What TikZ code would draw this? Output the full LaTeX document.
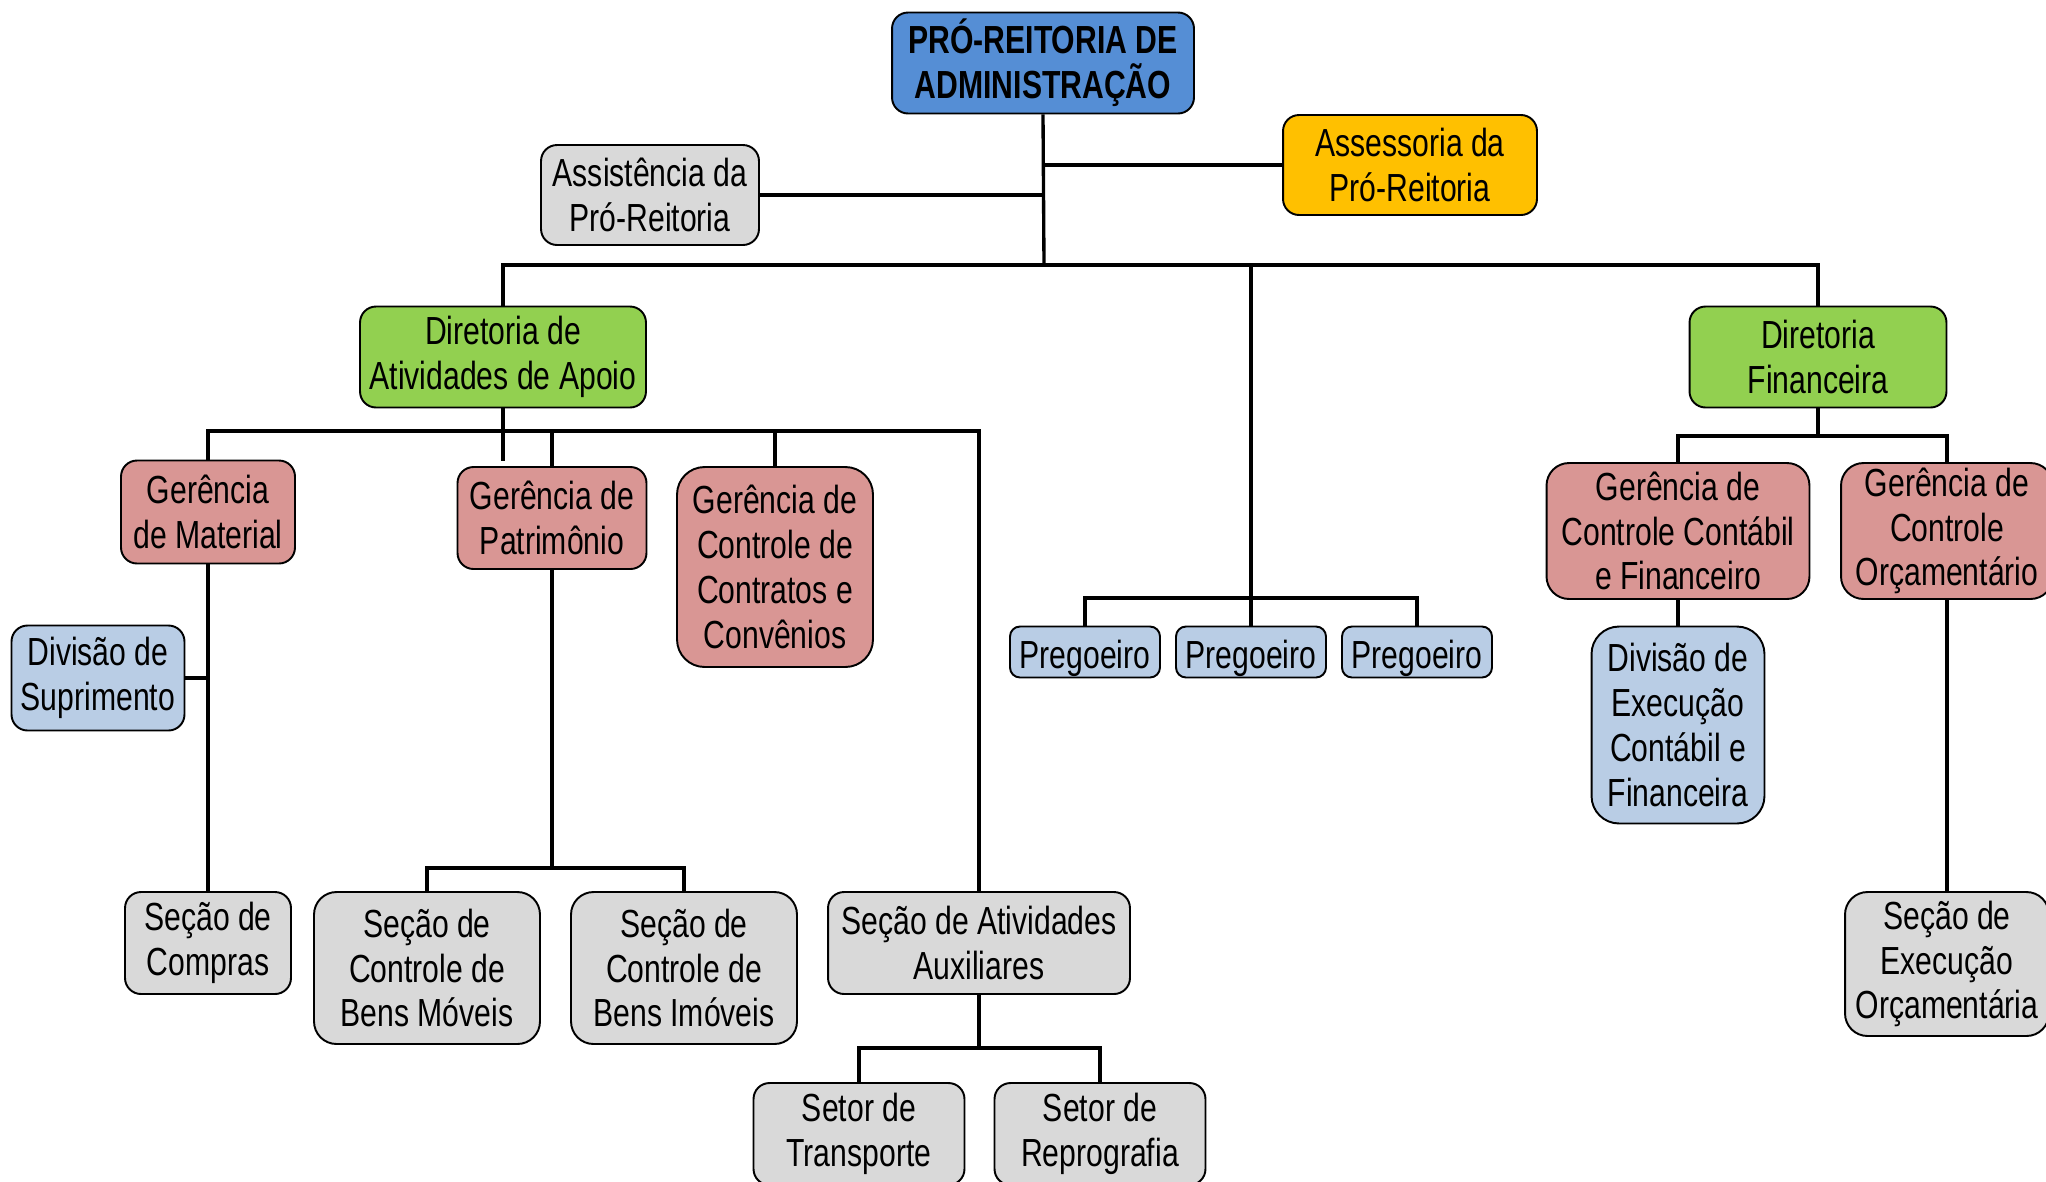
\documentclass[tikz,border=0pt]{standalone}
\usepackage{fontspec}
\setmainfont[FakeStretch=0.77]{Liberation Sans}

\definecolor{topblue}{HTML}{558ED5}
\definecolor{assyellow}{HTML}{FFC000}
\definecolor{dirgreen}{HTML}{92D050}
\definecolor{gerpink}{HTML}{D99694}
\definecolor{divblue}{HTML}{B9CDE5}
\definecolor{secgray}{HTML}{D9D9D9}

\begin{document}
\begin{tikzpicture}[x=0.02cm, y=-0.02cm,
    box/.style={rectangle, rounded corners=0.32cm, draw=black, line width=1.1pt,
        align=center, inner sep=0pt, font=\fontsize{22.3}{25.5}\selectfont,
        execute at begin node={\rule{0pt}{1.05em}}},
    conn/.style={draw=black, line width=1.9pt}]

        \useasboundingbox (0,0) rectangle (2046,1181);
        \clip (0,0) rectangle (2046,1181);

        % top level
        \node[box, fill=topblue, minimum width=6.04cm, minimum height=2.02cm, font=\fontsize{22.3}{25.5}\selectfont\bfseries] (pra) at (1043,63) {PRÓ-REITORIA DE\\ADMINISTRAÇÃO};
        \node[box, fill=assyellow, minimum width=5.08cm, minimum height=2.0cm] (ass) at (1410,165) {Assessoria da\\Pró-Reitoria};
        \node[box, fill=secgray, minimum width=4.36cm, minimum height=2.0cm] (asi) at (650,195) {Assistência da\\Pró-Reitoria};

        % diretorias
        \node[box, fill=dirgreen, minimum width=5.72cm, minimum height=2.02cm] (dap) at (503,357) {Diretoria de\\Atividades de Apoio};
        \node[box, fill=dirgreen, minimum width=5.14cm, minimum height=2.02cm] (dfi) at (1818,357) {Diretoria\\Financeira};

        % gerencias
        \node[box, fill=gerpink, minimum width=3.48cm, minimum height=2.06cm] (gma) at (208,512) {Gerência\\de Material};
        \node[box, fill=gerpink, minimum width=3.78cm, minimum height=2.04cm] (gpa) at (552,518) {Gerência de\\Patrimônio};
        \node[box, fill=gerpink, minimum width=3.92cm, minimum height=4.0cm, rounded corners=0.55cm] (gcc) at (775,567) {Gerência de\\Controle de\\Contratos e\\Convênios};
        \node[box, fill=gerpink, minimum width=5.26cm, minimum height=2.72cm, rounded corners=0.45cm] (gcf) at (1678,531) {Gerência de\\Controle Contábil\\e Financeiro};
        \node[box, fill=gerpink, minimum width=4.24cm, minimum height=2.72cm, rounded corners=0.45cm] (gco) at (1947,531) {Gerência de\\Controle\\Orçamentário};

        % divisoes
        \node[box, fill=divblue, minimum width=3.46cm, minimum height=2.1cm] (dsu) at (98,678) {Divisão de\\Suprimento};
        \node[box, fill=divblue, minimum width=3.46cm, minimum height=3.94cm, rounded corners=0.55cm] (dec) at (1678,725) {Divisão de\\Execução\\Contábil e\\Financeira};
        \node[box, fill=divblue, minimum width=3.0cm, minimum height=1.02cm, rounded corners=0.2cm] (pr1) at (1085,652) {Pregoeiro};
        \node[box, fill=divblue, minimum width=3.0cm, minimum height=1.02cm, rounded corners=0.2cm] (pr2) at (1251,652) {Pregoeiro};
        \node[box, fill=divblue, minimum width=3.0cm, minimum height=1.02cm, rounded corners=0.2cm] (pr3) at (1417,652) {Pregoeiro};

        % secoes
        \node[box, fill=secgray, minimum width=3.32cm, minimum height=2.04cm] (scp) at (208,943) {Seção de\\Compras};
        \node[box, fill=secgray, minimum width=4.52cm, minimum height=3.04cm, rounded corners=0.45cm] (sbm) at (427,968) {Seção de\\Controle de\\Bens Móveis};
        \node[box, fill=secgray, minimum width=4.52cm, minimum height=3.04cm, rounded corners=0.45cm] (sbi) at (684,968) {Seção de\\Controle de\\Bens Imóveis};
        \node[box, fill=secgray, minimum width=6.04cm, minimum height=2.04cm] (saa) at (979,943) {Seção de Atividades\\Auxiliares};
        \node[box, fill=secgray, minimum width=4.08cm, minimum height=2.88cm, rounded corners=0.45cm] (seo) at (1947,964) {Seção de\\Execução\\Orçamentária};
        \node[box, fill=secgray, minimum width=4.22cm, minimum height=2.04cm] (stp) at (859,1134) {Setor de\\Transporte};
        \node[box, fill=secgray, minimum width=4.22cm, minimum height=2.04cm] (srp) at (1100,1134) {Setor de\\Reprografia};

        % bus points
        \coordinate (b1) at (1044,265);
        \coordinate (b2) at (503,431);
        \coordinate (tail) at (503,461);
        \coordinate (b3) at (1251,598);
        \coordinate (b4) at (552,868);
        \coordinate (b5) at (979,1048);
        \coordinate (b6) at (1818,436);

        % connectors
        \draw[conn] (pra.south) -- (b1);
        \draw[conn] (ass.west) -- (pra.south |- ass.west);
        \draw[conn] (asi.east) -- (pra.south |- asi.east);
        \draw[conn] (dap.north) |- (b1) -| (dfi.north);
        \draw[conn] (pr2.north) -- (pr2.north |- b1);
        \draw[conn] (pr1.north) |- (b3) -| (pr3.north);

        \draw[conn] (dap.south) -- (tail);
        \draw[conn] (gma.north) |- (b2) -| (saa.north);
        \draw[conn] (gpa.north) -- (gpa.north |- b2);
        \draw[conn] (gcc.north) -- (gcc.north |- b2);

        \draw[conn] (gma.south) -- (scp.north);
        \draw[conn] (dsu.east) -- (gma.south |- dsu.east);
        \draw[conn] (gpa.south) -- (b4);
        \draw[conn] (sbm.north) |- (b4) -| (sbi.north);
        \draw[conn] (saa.south) -- (b5);
        \draw[conn] (stp.north) |- (b5) -| (srp.north);

        \draw[conn] (dfi.south) -- (b6);
        \draw[conn] (gcf.north) |- (b6) -| (gco.north);
        \draw[conn] (gcf.south) -- (dec.north);
        \draw[conn] (gco.south) -- (seo.north);

    \end{tikzpicture}
\end{document}
